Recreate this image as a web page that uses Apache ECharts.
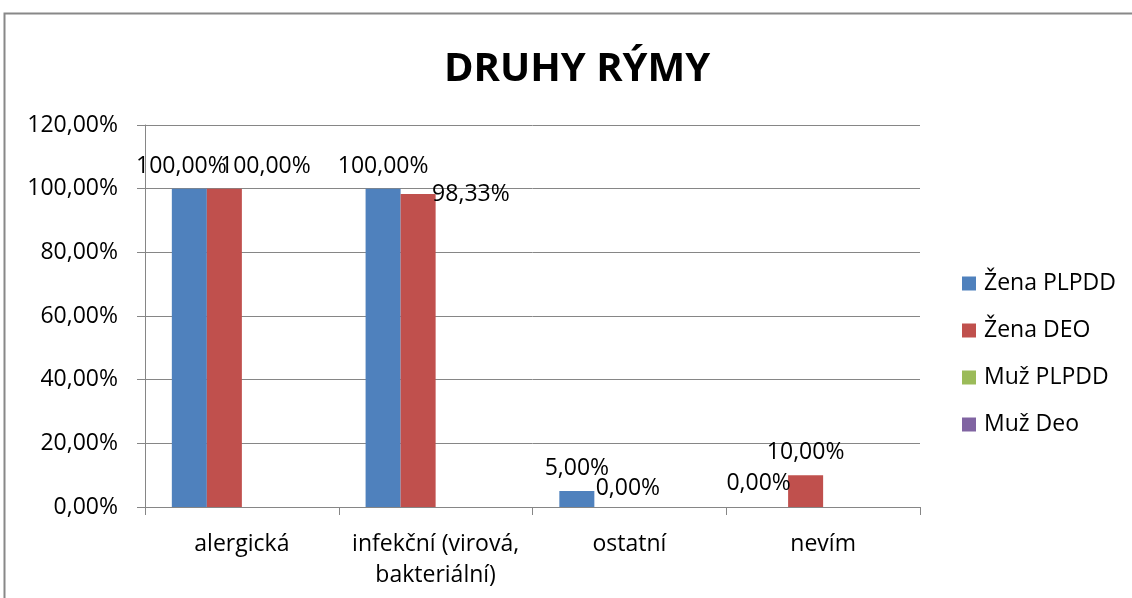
<!DOCTYPE html>
<html>
<head>
<meta charset="utf-8">
<script src="https://cdn.jsdelivr.net/npm/echarts@6/dist/echarts.min.js"></script>
<style>
  html, body { margin: 0; padding: 0; background: #fff; }
  #chart { width: 1132px; height: 598px; }
</style>
</head>
<body>
<div id="chart"></div>
<script>
  // data
  const categories = ['alergická', 'infekční (virová,\nbakteriální)', 'ostatní', 'nevím'];
  const seriesNames = ['Žena PLPDD', 'Žena DEO', 'Muž PLPDD', 'Muž Deo'];
  const zenaPLPDD = [1.0, 1.0, 0.05, 0];
  const zenaDEO = [1.0, 0.9833, 0, 0.10];
  const muzPLPDD = [null, null, null, null];
  const muzDeo = [null, null, null, null];
  const yTicks = [0, 0.2, 0.4, 0.6, 0.8, 1.0, 1.2];

  const colors = ['#4F81BD', '#C0504D', '#9BBB59', '#8064A2'];
  const font = 'Open Sans, sans-serif';

  // excel shuffled a few labels around to avoid overlaps
  const labelTweaks = {
    '0|0': { offset: [-8, 0] },
    '1|0': { offset: [41, 0] },
    '1|1': { position: ['90%', 0], verticalAlign: 'middle', align: 'left' },
    '1|2': { offset: [16, 4] },
    '0|3': { offset: [-12, -1] }
  };

  function pct(v) {
    return (v * 100).toFixed(2).replace('.', ',') + '%';
  }

  function buildData(values, si) {
    return values.map((v, ci) => {
      const t = labelTweaks[si + '|' + ci];
      return t ? { value: v, label: t } : v;
    });
  }

  const chart = echarts.init(document.getElementById('chart'));
  const allValues = [zenaPLPDD, zenaDEO, muzPLPDD, muzDeo];

  chart.setOption({
    animation: false,
    color: colors,
    title: {
      text: 'DRUHY RÝMY',
      left: 439,
      top: 45,
      textStyle: { fontFamily: font, fontWeight: 'bold', fontSize: 40, color: '#000' }
    },
    legend: {
      orient: 'vertical',
      left: 962,
      top: 272,
      padding: 0,
      itemWidth: 14,
      itemHeight: 14,
      itemGap: 24,
      icon: 'rect',
      textStyle: { fontFamily: font, fontSize: 23, color: '#000', padding: [0, 0, 0, 3] },
      data: seriesNames
    },
    grid: { left: 145, right: 212, top: 125, bottom: 91 },
    xAxis: {
      type: 'category',
      data: categories,
      axisLine: { lineStyle: { color: '#868686', width: 1 } },
      axisTick: { show: true, length: 8, lineStyle: { color: '#868686' } },
      axisLabel: { interval: 0, fontFamily: font, fontSize: 23, color: '#000', margin: 22, lineHeight: 31 }
    },
    yAxis: {
      type: 'value',
      min: yTicks[0],
      max: yTicks[yTicks.length - 1],
      interval: 0.2,
      axisLine: { show: true, lineStyle: { color: '#868686', width: 1 } },
      axisTick: { show: true, length: 8, lineStyle: { color: '#868686' } },
      splitLine: { lineStyle: { color: '#868686', width: 1 } },
      axisLabel: { fontFamily: font, fontSize: 23, color: '#000', margin: 27, formatter: pct }
    },
    series: seriesNames.map((name, si) => ({
      name: name,
      type: 'bar',
      barGap: '0%',
      barCategoryGap: '27.7%',
      data: buildData(allValues[si], si),
      label: {
        show: true,
        position: 'top',
        distance: 11,
        fontFamily: font,
        fontSize: 23,
        color: '#000',
        formatter: p => (p.value == null ? '' : pct(p.value))
      }
    })),
    graphic: [{
      type: 'rect',
      shape: { x: 4.5, y: 13.5, width: 1200, height: 700 },
      style: { fill: 'none', stroke: '#888', lineWidth: 2 },
      silent: true
    }]
  });
</script>
</body>
</html>
